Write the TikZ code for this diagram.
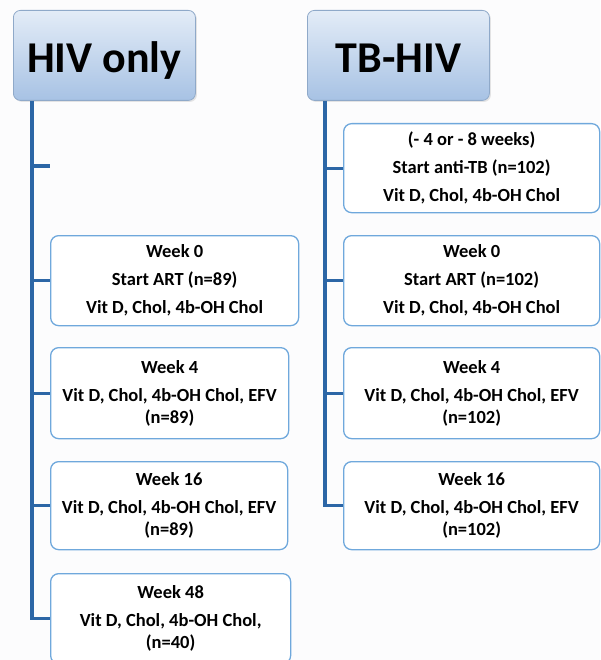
\documentclass[tikz,border=0pt]{standalone}
\usepackage{fontspec}
\setmainfont{Carlito}
\usetikzlibrary{positioning,shadows}

\definecolor{spine}{HTML}{2C66A6}
\definecolor{boxline}{HTML}{6FA8DC}
\definecolor{headtop}{HTML}{E3ECF7}
\definecolor{headbot}{HTML}{A7C2E4}
\definecolor{headline}{HTML}{8FA9C9}
\definecolor{paper}{HTML}{FCFCFD}

\tikzset{
  head/.style={draw=headline, line width=0.8pt, rounded corners=7pt,
    top color=headtop, bottom color=headbot, anchor=north west,
    minimum height=90pt, minimum width=182pt, inner sep=0pt,
    text height=34pt, text depth=0pt,
    font=\fontsize{44}{44}\selectfont\bfseries,
    drop shadow={opacity=0.2,shadow xshift=1.5pt,shadow yshift=-1.5pt}},
  visit/.style={draw=boxline, line width=1.3pt, rounded corners=8pt,
    fill=white, anchor=north west, align=center, inner sep=0pt,
    font=\fontsize{18.5}{22}\selectfont\bfseries},
  link/.style={draw=spine, line width=3.2pt},
}

\begin{document}
\begin{tikzpicture}[x=1pt,y=-1pt]
  \useasboundingbox (0,0) rectangle (600,660);
  \fill[paper] (0,0) rectangle (600,660); % background

  % HIV only arm
  \node[head] (hiv) at (13,10) {HIV only};
  \node[visit, minimum width=248pt, minimum height=90pt] (hw0) at (50,235)
    {Week 0\\[6pt]Start ART (n=89)\\[6pt]Vit D, Chol, 4b-OH Chol};
  \node[visit, minimum width=238pt, minimum height=91pt] (hw4) at (50,347)
    {Week 4\\[6pt]Vit D, Chol, 4b-OH Chol, EFV\\(n=89)};
  \node[visit, minimum width=237pt, minimum height=88pt] (hw16) at (50,461)
    {Week 16\\[6pt]Vit D, Chol, 4b-OH Chol, EFV\\(n=89)};
  \node[visit, minimum width=240pt, minimum height=90pt] (hw48) at (50,573)
    {Week 48\\[6pt]Vit D, Chol, 4b-OH Chol,\\(n=40)};
  \coordinate (lspine) at (32,0);
  \coordinate (hnone) at (50,166);
  \draw[link] (hiv.south -| lspine) |- (hw48.west);
  \draw[link] (lspine |- hnone) -- (hnone);
  \draw[link] (lspine |- hw0.west) -- (hw0.west);
  \draw[link] (lspine |- hw4.west) -- (hw4.west);
  \draw[link] (lspine |- hw16.west) -- (hw16.west);

  % TB-HIV arm
  \node[head] (tb) at (307,10) {TB-HIV};
  \node[visit, minimum width=256pt, minimum height=89pt] (tpre) at (343,123)
    {(- 4 or - 8 weeks)\\[6pt]Start anti-TB (n=102)\\[6pt]Vit D, Chol, 4b-OH Chol};
  \node[visit, minimum width=256pt, minimum height=90pt] (tw0) at (343,235)
    {Week 0\\[6pt]Start ART (n=102)\\[6pt]Vit D, Chol, 4b-OH Chol};
  \node[visit, minimum width=256pt, minimum height=91pt] (tw4) at (343,347)
    {Week 4\\[6pt]Vit D, Chol, 4b-OH Chol, EFV\\(n=102)};
  \node[visit, minimum width=256pt, minimum height=88pt] (tw16) at (343,461)
    {Week 16\\[6pt]Vit D, Chol, 4b-OH Chol, EFV\\(n=102)};
  \coordinate (rspine) at (325,0);
  \draw[link] (tb.south -| rspine) |- (tw16.west);
  \draw[link] (rspine |- tpre.west) -- (tpre.west);
  \draw[link] (rspine |- tw0.west) -- (tw0.west);
  \draw[link] (rspine |- tw4.west) -- (tw4.west);
\end{tikzpicture}
\end{document}
